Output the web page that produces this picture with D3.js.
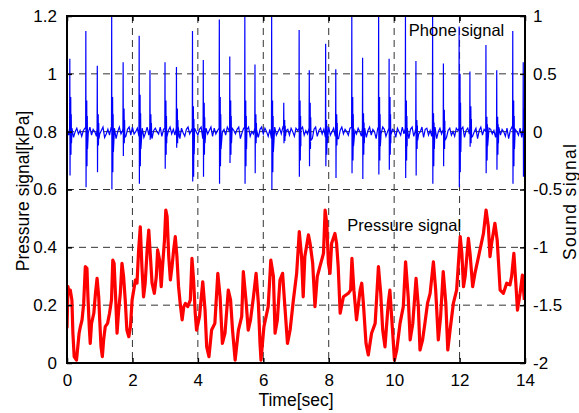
<!DOCTYPE html>
<html lang="en">
<head>
<meta charset="UTF-8">
<title>Pressure and phone signal</title>
<script src="https://d3js.org/d3.v7.min.js"></script>
<style>
    body {
        margin: 0;
        background: #fff;
        font-family: "Liberation Sans", Arial, sans-serif;
    }
    svg { display: block; }
    .tick text { font-size: 17px; fill: #000; }
</style>
</head>
<body>
<div id="container"></div>
<script>
// tick labels
const timeTicks = [0, 2, 4, 6, 8, 10, 12, 14];
const pressureTicks = [0, 0.2, 0.4, 0.6, 0.8, 1, 1.2];
const soundTicks = [-2, -1.5, -1, -0.5, 0, 0.5, 1];

// pressure signal [kPa] (red trace)
const pressureTime = [0.00,0.03,0.05,0.10,0.15,0.18,0.22,0.29,0.33,0.37,0.41,0.46,0.51,0.56,0.61,0.64,0.68,0.71,0.75,0.82,0.87,0.92,0.97,1.00,1.04,1.08,1.12,1.17,1.24,1.30,1.36,1.40,1.44,1.49,1.53,1.58,1.63,1.68,1.73,1.78,1.83,1.89,1.94,1.99,2.04,2.09,2.14,2.19,2.24,2.29,2.34,2.39,2.45,2.50,2.55,2.60,2.67,2.73,2.77,2.83,2.88,2.92,2.98,3.02,3.06,3.11,3.16,3.21,3.26,3.31,3.36,3.41,3.46,3.52,3.57,3.62,3.69,3.77,3.82,3.87,3.92,3.96,4.05,4.15,4.22,4.27,4.34,4.42,4.52,4.61,4.68,4.75,4.83,4.93,5.00,5.06,5.14,5.24,5.34,5.39,5.47,5.54,5.61,5.70,5.78,5.85,5.90,5.93,6.02,6.15,6.23,6.31,6.36,6.43,6.51,6.59,6.66,6.74,6.82,6.92,7.02,7.10,7.17,7.22,7.27,7.38,7.43,7.51,7.58,7.65,7.73,7.84,7.89,7.94,7.99,8.04,8.09,8.19,8.24,8.29,8.35,8.45,8.60,8.67,8.71,8.77,8.85,8.96,9.01,9.06,9.14,9.21,9.31,9.42,9.52,9.59,9.65,9.72,9.82,9.87,9.95,10.01,10.08,10.18,10.28,10.35,10.43,10.49,10.57,10.67,10.74,10.79,10.87,10.94,11.02,11.10,11.20,11.27,11.35,11.42,11.50,11.58,11.64,11.71,11.81,11.91,12.02,12.07,12.12,12.17,12.27,12.32,12.40,12.47,12.58,12.73,12.81,12.88,12.93,12.98,13.08,13.15,13.24,13.34,13.44,13.54,13.59,13.66,13.72,13.77,13.85,13.92,13.98];
const pressureValue = [0.12,0.264,0.250,0.252,0.218,0.103,0.022,0.010,0.056,0.103,0.126,0.149,0.206,0.333,0.327,0.229,0.126,0.068,0.137,0.172,0.241,0.293,0.229,0.149,0.056,0.022,0.080,0.126,0.137,0.172,0.218,0.356,0.345,0.218,0.103,0.183,0.241,0.345,0.299,0.218,0.114,0.091,0.126,0.218,0.252,0.287,0.276,0.391,0.471,0.333,0.229,0.276,0.391,0.460,0.368,0.276,0.241,0.299,0.391,0.356,0.264,0.333,0.425,0.529,0.506,0.368,0.287,0.333,0.391,0.437,0.368,0.264,0.206,0.149,0.195,0.206,0.195,0.218,0.362,0.287,0.172,0.114,0.160,0.281,0.183,0.056,0.022,0.114,0.137,0.310,0.229,0.068,0.103,0.252,0.218,0.114,0.010,0.114,0.160,0.316,0.218,0.114,0.149,0.229,0.310,0.206,0.068,0.010,0.126,0.195,0.356,0.299,0.103,0.149,0.287,0.310,0.195,0.068,0.114,0.218,0.310,0.454,0.368,0.229,0.368,0.443,0.414,0.345,0.195,0.299,0.333,0.379,0.529,0.483,0.345,0.310,0.414,0.448,0.414,0.333,0.172,0.229,0.241,0.252,0.362,0.252,0.149,0.252,0.276,0.206,0.068,0.028,0.103,0.137,0.333,0.241,0.114,0.056,0.206,0.252,0.114,0.010,0.045,0.137,0.195,0.350,0.229,0.080,0.137,0.293,0.195,0.045,0.080,0.137,0.206,0.241,0.350,0.252,0.080,0.160,0.316,0.206,0.045,0.114,0.206,0.252,0.437,0.379,0.264,0.299,0.431,0.379,0.264,0.310,0.368,0.448,0.529,0.471,0.368,0.414,0.483,0.425,0.252,0.241,0.276,0.270,0.299,0.379,0.276,0.183,0.241,0.304,0.218];

// phone signal: heart sound spikes (sec) with peak, trough, rebound and dip
const spikeTime = [0.09,0.58,0.93,1.37,1.72,2.21,2.54,3.00,3.35,3.84,4.17,4.66,4.98,5.44,5.75,6.26,6.63,7.10,7.41,7.91,8.22,8.71,9.04,9.53,9.85,10.35,10.67,11.18,11.51,11.99,12.32,12.81,13.14,13.63,13.95];
const spikeHigh = [0.63,0.87,0.57,1.00,0.60,0.83,0.53,0.60,0.56,0.87,0.62,0.97,0.65,1.00,0.58,1.00,0.25,0.88,0.53,0.76,0.54,1.00,0.64,1.00,0.63,1.00,0.61,1.00,0.59,0.91,0.52,0.75,0.53,0.87,0.60];
const spikeLow = [-0.38,-0.48,-0.35,-0.50,-0.21,-0.45,-0.07,-0.32,-0.14,-0.43,-0.39,-0.45,-0.27,-0.45,-0.36,-0.50,-0.10,-0.39,-0.30,-0.30,-0.40,-0.36,-0.41,-0.37,-0.33,-0.40,-0.38,-0.45,-0.30,-0.48,-0.13,-0.36,-0.33,-0.45,-0.39];
const spikeRebound = [0.30,0.27,0.15,0.30,0.20,0.32,0.15,0.27,0.20,0.22,0.25,0.30,0.27,0.27,0.15,0.27,0.10,0.27,0.25,0.10,0.15,0.30,0.16,0.30,0.30,0.27,0.10,0.16,0.19,0.50,0.22,0.13,0.13,0.27,0.20];
const spikeDip = [-0.20,-0.30,-0.12,-0.35,-0.10,-0.30,-0.05,-0.20,-0.10,-0.39,-0.20,-0.30,-0.20,-0.30,-0.10,-0.35,-0.08,-0.25,-0.15,-0.20,-0.12,-0.25,-0.20,-0.25,-0.20,-0.25,-0.15,-0.30,-0.15,-0.35,-0.10,-0.25,-0.20,-0.30,-0.25];
// phone signal between spikes, one value every 0.05 sec
const baseLevel = [
  0.02,-0.03,0.01,0.03,-0.05,0.00,0.03,-0.02,0.01,-0.04,0.01,0.03,-0.06,-0.01,0.04,-0.03,0.02,0.00,-0.04,0.03,
  -0.02,0.01,0.04,-0.05,-0.02,0.02,-0.03,0.04,-0.01,0.03,-0.06,0.00,0.04,-0.02,0.01,0.03,-0.04,0.02,0.04,-0.03,
  0.04,-0.02,0.00,0.03,-0.04,0.01,0.03,-0.05,-0.01,0.04,-0.03,0.02,-0.06,0.01,0.03,0.00,-0.02,0.04,-0.04,0.02,
  0.03,-0.05,0.01,0.04,-0.02,0.02,-0.03,0.00,0.04,-0.06,0.03,-0.01,-0.04,0.02,0.04,-0.02,0.01,-0.05,0.03,0.00,
  -0.03,0.02,0.04,-0.06,0.00,0.03,-0.02,0.01,0.04,-0.04,0.03,-0.02,0.01,0.03,-0.05,0.00,0.02,-0.03,0.04,0.01,
  -0.04,0.03,0.01,-0.02,0.02,0.04,-0.06,-0.01,0.03,-0.03,0.02,0.04,-0.04,0.00,-0.02,0.03,0.01,-0.05,0.02,0.04,
  -0.02,0.03,0.00,-0.04,0.02,-0.06,0.01,0.04,-0.03,0.00,0.03,-0.02,0.04,-0.05,0.01,0.02,-0.03,0.03,0.00,-0.04,
  0.03,0.01,-0.05,0.02,0.04,-0.03,0.01,-0.02,0.03,0.00,-0.06,0.02,0.04,-0.04,0.01,0.03,-0.02,0.02,-0.05,0.01,
  0.04,-0.03,0.00,0.03,-0.04,0.02,-0.06,0.01,0.04,-0.02,0.02,0.00,-0.03,0.03,0.04,-0.05,0.01,-0.02,0.03,0.00,
  -0.04,0.02,0.03,-0.05,0.01,0.04,-0.03,0.02,0.00,-0.06,0.03,0.01,-0.02,0.04,0.02,-0.04,0.00,0.03,-0.03,0.02,
  0.01,-0.05,0.03,0.00,-0.03,0.04,-0.02,0.01,0.03,-0.06,0.02,0.04,-0.04,0.01,0.03,-0.02,0.00,0.04,-0.05,0.02,
  0.03,-0.03,0.01,-0.04,0.02,0.04,-0.06,0.00,0.03,-0.02,0.02,0.04,-0.05,0.01,0.03,-0.03,0.00,-0.04,0.03,0.01,
  -0.03,0.02,0.04,-0.05,0.01,0.03,-0.02,0.02,-0.04,0.00,0.03,-0.06,0.01,0.04,-0.03,0.02,0.00,-0.04,0.03,0.02,
  -0.02,0.01,-0.05,0.03,0.04,-0.03,0.02,0.00,-0.04,0.03,-0.06,0.01,0.04,-0.02,0.02,0.00,-0.03,0.03,-0.05,0.02,
  0.03];

const W = 579, H = 413;
const margin = {left: 67, right: 54, top: 16, bottom: 50};
const iw = W - margin.left - margin.right;
const ih = H - margin.top - margin.bottom;

const svg = d3.select('#container').append('svg')
    .attr('width', W).attr('height', H);

const g = svg.append('g').attr('transform', `translate(${margin.left},${margin.top})`);

const x = d3.scaleLinear().domain([0, 14]).range([0, iw]);
const yP = d3.scaleLinear().domain([0, 1.2]).range([ih, 0]);
const yS = d3.scaleLinear().domain([-2, 1]).range([ih, 0]);

svg.append('defs').append('clipPath').attr('id', 'plotclip')
    .append('rect').attr('width', iw).attr('height', ih);

// dashed grid
const grid = g.append('g').attr('stroke', '#333').attr('stroke-width', 1)
    .attr('stroke-dasharray', '7,5');
grid.selectAll('.gx').data(timeTicks.slice(1, -1)).enter().append('line')
    .attr('x1', d => x(d)).attr('x2', d => x(d))
    .attr('y1', 0).attr('y2', ih);
grid.selectAll('.gy').data(pressureTicks.slice(1, -1)).enter().append('line')
    .attr('x1', 0).attr('x2', iw)
    .attr('y1', d => yP(d)).attr('y2', d => yP(d));

// phone signal points: baseline samples plus the spike bursts
const phonePts = [];
baseLevel.forEach((v, i) => phonePts.push([i / 20, v]));
spikeTime.forEach((t, i) => {
    phonePts.push([t - 0.010, 0.03]);
    phonePts.push([t - 0.004, spikeHigh[i]]);
    phonePts.push([t + 0.003, spikeLow[i]]);
    phonePts.push([t + 0.010, spikeRebound[i]]);
    phonePts.push([t + 0.017, spikeDip[i]]);
    phonePts.push([t + 0.024, spikeRebound[i]]);
    phonePts.push([t + 0.031, spikeDip[i]]);
    phonePts.push([t + 0.040, spikeRebound[i] / 2]);
    phonePts.push([t + 0.048, spikeDip[i] / 2]);
});
phonePts.sort((a, b) => a[0] - b[0]);

const plot = g.append('g').attr('clip-path', 'url(#plotclip)');

plot.append('path')
    .datum(phonePts)
    .attr('fill', 'none')
    .attr('stroke', '#0000ff')
    .attr('stroke-width', 1.2)
    .attr('d', d3.line().x(d => x(d[0])).y(d => yS(d[1])));

const pressure = pressureTime.map((t, i) => [t, pressureValue[i]]);
plot.append('path')
    .datum(pressure)
    .attr('fill', 'none')
    .attr('stroke', '#ff0000')
    .attr('stroke-width', 3.2)
    .attr('stroke-linejoin', 'round')
    .attr('d', d3.line().x(d => x(d[0])).y(d => yP(d[1])));

// axes, inward ticks
const fmt = d => String(d);
g.append('g').attr('transform', `translate(0,${ih})`)
    .call(d3.axisBottom(x).tickValues(timeTicks).tickSizeInner(-5).tickSizeOuter(0).tickPadding(11).tickFormat(fmt));
g.append('g')
    .call(d3.axisTop(x).tickValues(timeTicks).tickSizeInner(-5).tickSizeOuter(0).tickFormat(''));
g.append('g')
    .call(d3.axisLeft(yP).tickValues(pressureTicks).tickSizeInner(-5).tickSizeOuter(0).tickPadding(10).tickFormat(fmt));
g.append('g').attr('transform', `translate(${iw},0)`)
    .call(d3.axisRight(yS).tickValues(soundTicks).tickSizeInner(-5).tickSizeOuter(0).tickPadding(8).tickFormat(fmt));

g.selectAll('.domain').remove();
g.selectAll('.tick line').attr('stroke', '#000').attr('stroke-width', 1.5);
g.selectAll('.tick text').style('font-family', '"Liberation Sans", Arial, sans-serif');

// box
g.append('rect').attr('width', iw).attr('height', ih)
    .attr('fill', 'none').attr('stroke', '#000').attr('stroke-width', 2);

// labels
svg.append('text').attr('x', margin.left + iw / 2).attr('y', 406)
    .attr('text-anchor', 'middle').style('font-size', '17.5px').text('Time[sec]');
svg.append('text').attr('transform', 'translate(29,191) rotate(-90)')
    .attr('text-anchor', 'middle').style('font-size', '17.5px').text('Pressure signal[kPa]');
svg.append('text').attr('transform', 'translate(576,202) rotate(-90)')
    .attr('text-anchor', 'middle').style('font-size', '17.5px')
    .attr('textLength', 116).attr('lengthAdjust', 'spacing').text('Sound signal');

g.append('text').attr('x', x(10.45)).attr('y', yS(0.83))
    .style('font-size', '16.5px').text('Phone signal');
g.append('text').attr('x', x(8.57)).attr('y', yP(0.455))
    .style('font-size', '16.5px').text('Pressure signal');
</script>
</body>
</html>
